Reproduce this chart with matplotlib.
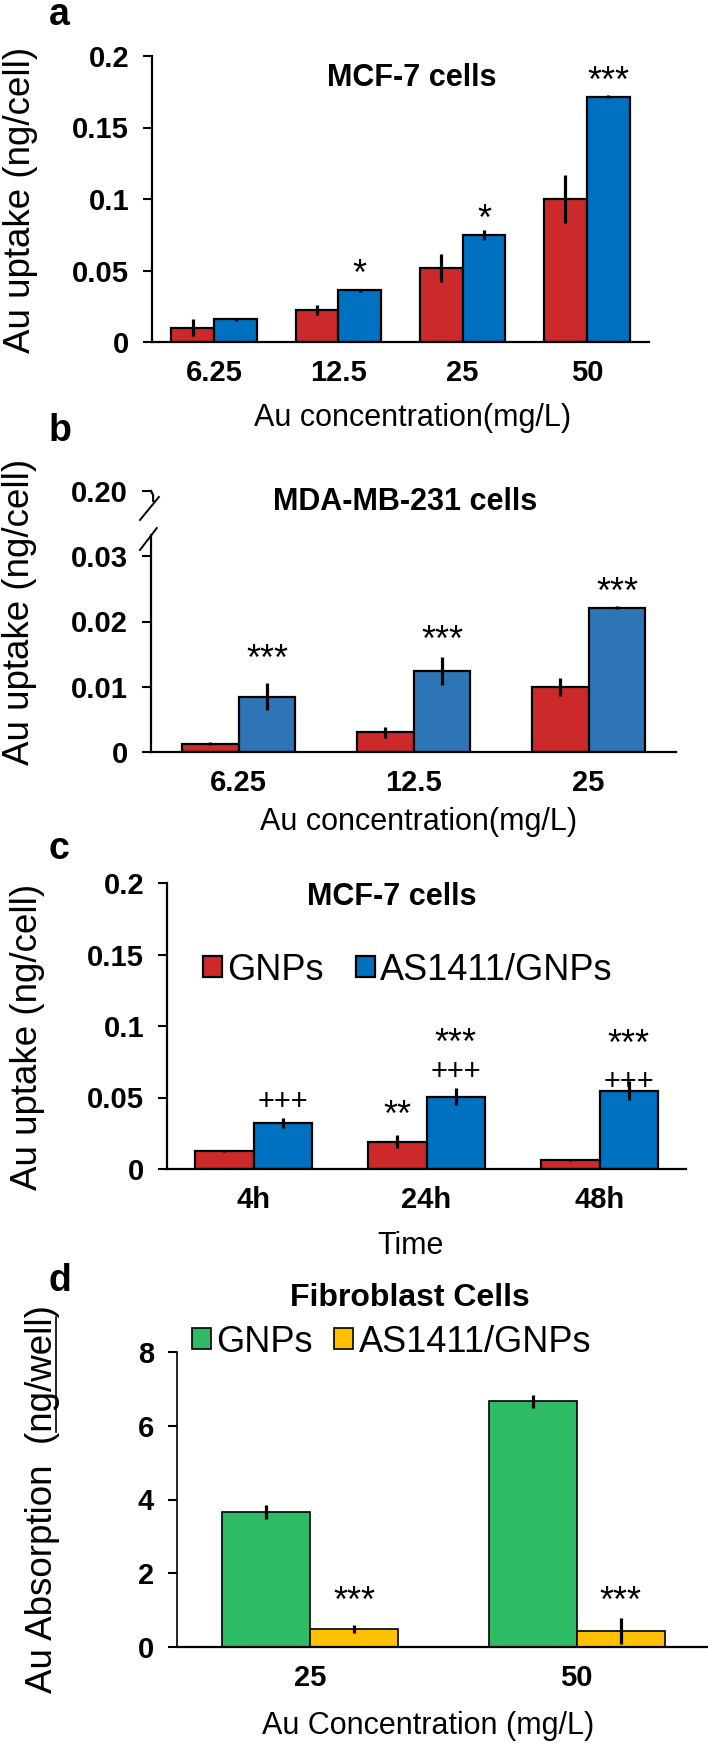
import numpy as np
import matplotlib
matplotlib.use('Agg')
import matplotlib.pyplot as plt
from matplotlib.lines import Line2D
from matplotlib.font_manager import FontProperties

plt.rcParams['font.family'] = ['Liberation Sans', 'DejaVu Sans']

# --- data ---
# a: MCF-7, uptake vs Au concentration
conc_a = ['6.25', '12.5', '25', '50']
gnp_a = [0.010, 0.0226, 0.052, 0.0999]
gnp_a_err = [0.006, 0.0035, 0.0097, 0.0166]
apt_a = [0.0159, 0.0362, 0.0747, 0.1715]
apt_a_err = [0.001, 0.001, 0.0037, 0.001]
star_a = ['', '*', '*', '***']
star_a_y = [0, 0.0548, 0.0933, 0.190]

# b: MDA-MB-231, uptake vs Au concentration
conc_b = ['6.25', '12.5', '25']
gnp_b = [0.0013, 0.0030, 0.0100]
gnp_b_err = [0.0002, 0.0009, 0.0014]
apt_b = [0.0085, 0.0124, 0.0221]
apt_b_err = [0.0021, 0.0022, 0.0002]
star_b = ['***', '***', '***']
star_b_y = [0.0159, 0.0188, 0.0261]

# c: MCF-7, uptake vs time
time_c = ['4h', '24h', '48h']
gnp_c = [0.0124, 0.0191, 0.0065]
gnp_c_err = [0.0008, 0.0047, 0.0007]
apt_c = [0.0322, 0.0506, 0.0548]
apt_c_err = [0.0035, 0.0057, 0.0065]
star_c_red = ['', '**', '']
star_c_red_y = [0, 0.045, 0]
plus_c = ['+++', '+++', '+++']
plus_c_y = [0.0485, 0.0695, 0.0625]
star_c = ['', '***', '***']
star_c_y = [0, 0.0956, 0.0951]

# d: fibroblast cells
conc_d = ['25', '50']
gnp_d = [3.65, 6.66]
gnp_d_err = [0.19, 0.18]
apt_d = [0.49, 0.44]
apt_d_err = [0.12, 0.35]
star_d = ['***', '***']
star_d_y = [1.55, 1.55]

RED = '#cc2a2a'
BLUE = '#0070c0'
BLUE_B = '#2e75b6'
GREEN = '#2dbb63'
YELLOW = '#ffc000'

TICK = 21
TITLE = 22
XLAB = 22
YLAB = 26.5
LEG = 26
STAR = 26
LETTER = 27

W, H = 708, 1743
fig = plt.figure(figsize=(W / 100, H / 100), dpi=100)


def rect(l, r, top, bot):
    return [l / W, 1 - bot / H, (r - l) / W, (bot - top) / H]


def fx(px):
    return px / W


def fy(py):
    return 1 - py / H


def bars(ax, cats, v1, e1, v2, e2, c1, c2, width, lw=1.6):
    x = np.arange(len(cats))
    b1 = ax.bar(x - width / 2, v1, width, color=c1, edgecolor='black', linewidth=lw, zorder=2)
    b2 = ax.bar(x + width / 2, v2, width, color=c2, edgecolor='black', linewidth=lw, zorder=2)
    ax.errorbar(x - width / 2, v1, yerr=e1, fmt='none', ecolor='black', elinewidth=2.3, capsize=0, zorder=3)
    ax.errorbar(x + width / 2, v2, yerr=e2, fmt='none', ecolor='black', elinewidth=2.3, capsize=0, zorder=3)
    ax.set_xlim(-0.5, len(cats) - 0.5)
    ax.set_xticks(x)
    ax.set_xticklabels(cats, fontsize=TICK, fontweight='bold')
    ax.tick_params(axis='x', length=0, pad=12)
    ax.tick_params(axis='y', length=6.5, width=1.5, direction='out', pad=10, labelsize=TICK)
    for s in ['top', 'right']:
        ax.spines[s].set_visible(False)
    for s in ['left', 'bottom']:
        ax.spines[s].set_linewidth(1.6)
    return x, b1, b2


def yticks(ax, vals, labels):
    ax.set_yticks(vals)
    ax.set_yticklabels(labels, fontweight='bold', fontsize=TICK)


def marks(ax, xs, labels, ys, size, lift):
    for xi, lab, yi in zip(xs, labels, ys):
        if lab:
            ax.annotate(lab, (xi, yi), xytext=(0, -lift * size), textcoords='offset points',
                        ha='center', va='baseline', fontsize=size)


# ---------------- a ----------------
ax = fig.add_axes(rect(152, 649, 56, 342))
x, _, _ = bars(ax, conc_a, gnp_a, gnp_a_err, apt_a, apt_a_err, RED, BLUE, 0.345)
ax.set_ylim(0, 0.2)
yticks(ax, [0, 0.05, 0.1, 0.15, 0.2], ['0', '0.05', '0.1', '0.15', '0.2'])
marks(ax, x + 0.345 / 2, star_a, star_a_y, STAR, 0.6)
fig.text(fx(412), fy(78), 'MCF-7 cells', ha='center', va='center', fontsize=TITLE, fontweight='bold')
fig.text(fx(413), fy(418), 'Au concentration(mg/L)', ha='center', va='center', fontsize=XLAB)
fig.text(fx(21), fy(200), 'Au uptake (ng/cell)', rotation=90, ha='center', va='center', fontsize=YLAB)
fig.text(fx(49), fy(25), 'a', ha='left', va='baseline', fontsize=LETTER, fontweight='bold')

# ---------------- b (broken axis) ----------------
ax = fig.add_axes(rect(151, 676, 491, 752))
x, _, _ = bars(ax, conc_b, gnp_b, gnp_b_err, apt_b, apt_b_err, RED, BLUE_B, 0.325)
ax.set_ylim(0, 0.04)
yticks(ax, [0, 0.01, 0.02, 0.03, 0.04], ['0', '0.01', '0.02', '0.03', '0.20'])
ax.spines['left'].set_bounds(0, 0.0333)
ax.plot([0, 0.004, 0.004], [0.04, 0.0394, 0.0385], color='black', lw=1.6, clip_on=False,
        transform=ax.get_yaxis_transform())
kw = dict(transform=ax.transAxes, color='black', lw=1.4, clip_on=False)
ax.plot([-0.021, 0.015], [0.889, 0.977], **kw)
ax.plot([-0.021, 0.011], [0.774, 0.858], **kw)
marks(ax, x + 0.325 / 2, star_b, star_b_y, STAR, 0.6)
fig.text(fx(405), fy(502), 'MDA-MB-231 cells', ha='center', va='center', fontsize=TITLE, fontweight='bold')
fig.text(fx(419), fy(822), 'Au concentration(mg/L)', ha='center', va='center', fontsize=XLAB)
fig.text(fx(20), fy(612), 'Au uptake (ng/cell)', rotation=90, ha='center', va='center', fontsize=YLAB)
fig.text(fx(49), fy(441), 'b', ha='left', va='baseline', fontsize=LETTER, fontweight='bold')

# ---------------- c ----------------
ax = fig.add_axes(rect(167, 686, 883, 1169))
x, b1, b2 = bars(ax, time_c, gnp_c, gnp_c_err, apt_c, apt_c_err, RED, BLUE, 0.337)
ax.set_ylim(0, 0.2)
yticks(ax, [0, 0.05, 0.1, 0.15, 0.2], ['0', '0.05', '0.1', '0.15', '0.2'])
marks(ax, x - 0.337 / 2, star_c_red, star_c_red_y, STAR, 0.6)
marks(ax, x + 0.337 / 2, plus_c, plus_c_y, 21, 0.35)
marks(ax, x + 0.337 / 2, star_c, star_c_y, STAR, 0.6)
ax.legend([b1, b2], ['GNPs', 'AS1411/GNPs'], ncol=2, frameon=False, fontsize=LEG,
          loc='center left', bbox_to_anchor=(fx(203), fy(970)), bbox_transform=fig.transFigure,
          handlelength=0.52, handleheight=0.52, handletextpad=0.15, columnspacing=0.9,
          borderpad=0, borderaxespad=0)
fig.text(fx(392), fy(897), 'MCF-7 cells', ha='center', va='center', fontsize=TITLE, fontweight='bold')
fig.text(fx(411), fy(1246), 'Time', ha='center', va='center', fontsize=XLAB)
fig.text(fx(28), fy(1037), 'Au uptake (ng/cell)', rotation=90, ha='center', va='center', fontsize=YLAB)
fig.text(fx(49), fy(859), 'c', ha='left', va='baseline', fontsize=LETTER, fontweight='bold')

# ---------------- d ----------------
ax = fig.add_axes(rect(177, 710, 1352, 1647))
x, b1, b2 = bars(ax, conc_d, gnp_d, gnp_d_err, apt_d, apt_d_err, GREEN, YELLOW, 0.33, lw=1.2)
ax.set_ylim(0, 8)
yticks(ax, [0, 2, 4, 6, 8], ['0', '2', '4', '6', '8'])
ax.spines['left'].set_linewidth(1.2)
marks(ax, x + 0.33 / 2, star_d, star_d_y, STAR, 0.6)
ax.legend([b1, b2], ['GNPs', 'AS1411/GNPs'], ncol=2, frameon=False, fontsize=LEG,
          loc='center left', bbox_to_anchor=(fx(192), fy(1342)), bbox_transform=fig.transFigure,
          handlelength=0.52, handleheight=0.52, handletextpad=0.15, columnspacing=0.6,
          borderpad=0, borderaxespad=0)
fig.text(fx(410), fy(1298), 'Fibroblast Cells', ha='center', va='center', fontsize=23, fontweight='bold')
fig.text(fx(428), fy(1726), 'Au Concentration (mg/L)', ha='center', va='center', fontsize=XLAB)

# y label with "ng/well" underlined as in the original
ylab_pre, ylab_ul, ylab_post = 'Au Absorption  (', 'ng/well', ')'
cx, cy = 43, 1499
fig.text(fx(cx), fy(cy), ylab_pre + ylab_ul + ylab_post, rotation=90, ha='center', va='center', fontsize=YLAB)
r = fig.canvas.get_renderer()
prop = FontProperties(family=['Liberation Sans', 'DejaVu Sans'], size=YLAB)
w_all, h_all, d_all = r.get_text_width_height_descent(ylab_pre + ylab_ul + ylab_post, prop, ismath=False)
w_pre, _, _ = r.get_text_width_height_descent(ylab_pre, prop, ismath=False)
w_ul, _, _ = r.get_text_width_height_descent(ylab_ul, prop, ismath=False)
start = cy + w_all / 2 - w_pre  # pixel rows measured from the top
end = start - w_ul
base_x = cx + h_all / 2 - d_all + 3
fig.add_artist(Line2D([fx(base_x), fx(base_x)], [fy(start), fy(end)], color='black', lw=1.2))
fig.text(fx(49), fy(1291), 'd', ha='left', va='baseline', fontsize=LETTER, fontweight='bold')

fig.savefig('out.png', dpi=100)
